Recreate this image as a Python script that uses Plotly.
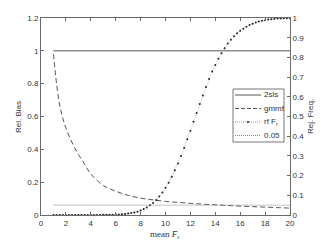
import plotly.graph_objects as go

# ---- data ----
f_line = [1, 20]
sls_bias = [1.0, 1.0]
ref_level = [0.05, 0.05]

f_gmmf = [1, 1.25, 1.5, 1.75, 2, 2.5, 3, 3.5, 4, 5, 6, 7, 8, 9, 10, 11, 12, 13, 14, 15, 16, 17, 18, 19, 20]
gmmf_bias = [0.98, 0.80, 0.67, 0.59, 0.53, 0.44, 0.37, 0.31, 0.25, 0.18, 0.145, 0.12, 0.103, 0.092,
             0.083, 0.077, 0.071, 0.066, 0.062, 0.058, 0.054, 0.051, 0.048, 0.045, 0.042]

f_rf = [1 + 0.25 * i for i in range(77)]
rf_rej = [0, 0, 0, 0, 0, 0, 0, 0, 0, 0, 0, 0,
          0, 0, 0, 0, 0.001, 0.001, 0.001, 0.001, 0.002,   # 1.0 .. 6.0
          0.003, 0.004, 0.005, 0.007, 0.010, 0.013, 0.017, 0.023,  # 6.25 .. 8.0
          0.030, 0.038, 0.049, 0.061, 0.076, 0.094, 0.114, 0.138,  # 8.25 .. 10.0
          0.164, 0.194, 0.227, 0.262, 0.300, 0.341, 0.384, 0.428,  # 10.25 .. 12.0
          0.473, 0.518, 0.563, 0.607, 0.650, 0.690, 0.728, 0.762,  # 12.25 .. 14.0
          0.793, 0.821, 0.847, 0.870, 0.890, 0.907, 0.922, 0.935,  # 14.25 .. 16.0
          0.946, 0.956, 0.964, 0.971, 0.977, 0.982, 0.986, 0.989,  # 16.25 .. 18.0
          0.992, 0.994, 0.996, 0.997, 0.998, 0.999, 0.999, 1.0]   # 18.25 .. 20.0

x_ticks = [0, 2, 4, 6, 8, 10, 12, 14, 16, 18, 20]
left_ticks = [0, 0.2, 0.4, 0.6, 0.8, 1, 1.2]
right_ticks = [0, 0.1, 0.2, 0.3, 0.4, 0.5, 0.6, 0.7, 0.8, 0.9, 1]

legend_labels = ["2sls", "gmmf", "rf F<sub>r</sub>", "0.05"]

AX = "#6a6a6a"
TXT = "#333333"
FONT = "Liberation Sans"

fig = go.Figure()
fig.add_trace(go.Scatter(x=f_line, y=sls_bias, mode="lines", line=dict(color="#555555", width=1),
                         name="2sls", yaxis="y"))
fig.add_trace(go.Scatter(x=f_gmmf, y=gmmf_bias, mode="lines", line=dict(color="#555555", width=1, dash="5px,3px"),
                         line_shape="spline", name="gmmf", yaxis="y"))
fig.add_trace(go.Scatter(x=f_rf, y=rf_rej, mode="lines+markers",
                         line=dict(color="#aaaaaa", width=0.8, dash="1px,1px"),
                         marker=dict(color="#222222", size=2.0, line=dict(width=0)),
                         name="rf F_r", yaxis="y2"))
fig.add_trace(go.Scatter(x=f_line, y=ref_level, mode="lines", line=dict(color="#888888", width=1, dash="1px,1px"),
                         name="0.05", yaxis="y2"))

fig.update_layout(
    width=321, height=241,
    margin=dict(l=41, r=31, t=18, b=26),
    paper_bgcolor="white", plot_bgcolor="white",
    showlegend=False,
    font=dict(family=FONT, size=8, color=TXT),
    xaxis=dict(range=[0, 20], tickvals=x_ticks, ticks="inside", ticklen=3, tickcolor=AX,
               showline=True, linecolor=AX, linewidth=1, mirror="ticks", showgrid=False, zeroline=False,
               tickfont=dict(family=FONT, size=8, color=TXT)),
    yaxis=dict(range=[0, 1.2], tickvals=left_ticks, ticktext=["0", "0.2", "0.4", "0.6", "0.8", "1", "1.2"],
               ticks="inside", ticklen=3, tickcolor=AX,
               showline=True, linecolor=AX, linewidth=1, showgrid=False, zeroline=False,
               tickfont=dict(family=FONT, size=8, color=TXT)),
    yaxis2=dict(range=[0, 1], tickvals=right_ticks,
                ticktext=["0", "0.1", "0.2", "0.3", "0.4", "0.5", "0.6", "0.7", "0.8", "0.9", "1"],
                overlaying="y", side="right", ticks="inside", ticklen=3, tickcolor=AX,
                showline=True, linecolor=AX, linewidth=1, showgrid=False, zeroline=False,
                tickfont=dict(family=FONT, size=8, color=TXT)),
)

# ---- pixel helpers for decorations (paper coordinates) ----
def px_x(p):
    return (p - 41) / 249.0

def px_y(p):
    return (215 - p) / 197.0

annotations = [
    dict(xref="paper", yref="paper", x=px_x(165), y=px_y(234), text="mean <i>F̄</i><sub>r</sub>",
         showarrow=False, xanchor="center", yanchor="middle",
         font=dict(family="Liberation Serif", size=9, color=TXT)),
    dict(xref="paper", yref="paper", x=px_x(18), y=px_y(117), text="Rel. Bias", textangle=-90,
         showarrow=False, xanchor="center", yanchor="middle", font=dict(family=FONT, size=8, color=TXT)),
    dict(xref="paper", yref="paper", x=px_x(310), y=px_y(117), text="Rej. Freq.", textangle=-90,
         showarrow=False, xanchor="center", yanchor="middle", font=dict(family=FONT, size=8, color=TXT)),
]

# ---- manual legend (MATLAB style box) ----
shapes = [dict(type="rect", xref="paper", yref="paper", x0=px_x(233), x1=px_x(284), y0=px_y(142), y1=px_y(89),
               line=dict(color="#777777", width=1), fillcolor="white", layer="above")]
rows = [95, 108.5, 122, 135.5]
styles = [dict(color="#555555", width=1, dash="solid"),
          dict(color="#555555", width=1, dash="4px,2px"),
          dict(color="#999999", width=1, dash="1px,1px"),
          dict(color="#888888", width=1, dash="1px,1px")]
for r, st, lab in zip(rows, styles, legend_labels):
    shapes.append(dict(type="line", xref="paper", yref="paper", x0=px_x(235), x1=px_x(261),
                       y0=px_y(r), y1=px_y(r), line=st, layer="above"))
    annotations.append(dict(xref="paper", yref="paper", x=px_x(262), y=px_y(r), text=lab, showarrow=False,
                            xanchor="left", yanchor="middle", font=dict(family=FONT, size=8, color=TXT)))
shapes.append(dict(type="circle", xref="paper", yref="paper", x0=px_x(247), x1=px_x(249),
                   y0=px_y(123), y1=px_y(121), fillcolor="#222222", line=dict(width=0), layer="above"))
fig.update_layout(shapes=shapes, annotations=annotations)

fig.write_html("out.html",
               config={"displayModeBar": False, "staticPlot": True},
               post_script="document.body.style.margin='0';document.body.style.overflow='hidden';")
